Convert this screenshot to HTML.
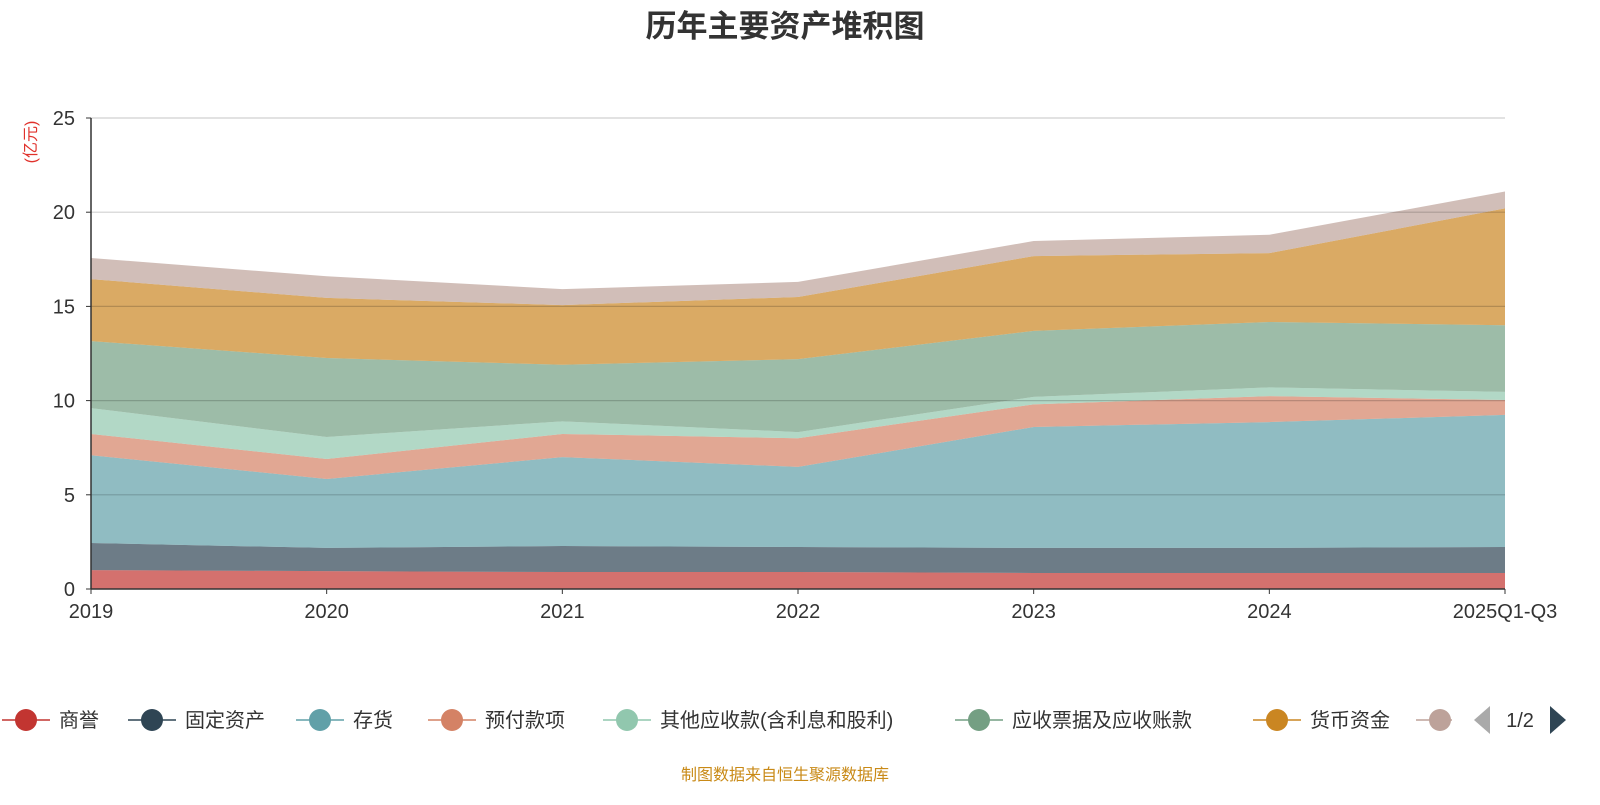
<!DOCTYPE html>
<html><head><meta charset="utf-8">
<style>
body{margin:0;background:#fff;width:1600px;height:800px;overflow:hidden;font-family:"Liberation Sans","Noto Sans CJK SC",sans-serif;}
svg text{font-family:"Liberation Sans","Noto Sans CJK SC",sans-serif;}
</style></head>
<body>
<svg id="chart" width="1600" height="800">
<text x="785" y="37" text-anchor="middle" font-size="31" font-weight="bold" fill="#333">历年主要资产堆积图</text>
<text transform="translate(36,142) rotate(-90)" text-anchor="middle" font-size="16" fill="#e0322c">(亿元)</text>
<g id="areas"></g><g id="grid"></g><g id="axes"></g><g id="legend"></g>
<text x="785" y="780" text-anchor="middle" font-size="16" fill="#c98a17">制图数据来自恒生聚源数据库</text>
</svg>
<script>
const categories=["2019","2020","2021","2022","2023","2024","2025Q1-Q3"];
const seriesNames=["商誉","固定资产","存货","预付款项","其他应收款(含利息和股利)","应收票据及应收账款","货币资金","其他流动资产"];
const s0=[1.0,0.95,0.9,0.9,0.85,0.85,0.85];
const s1=[1.44,1.23,1.38,1.33,1.33,1.33,1.38];
const s2=[4.66,3.66,4.72,4.25,6.42,6.68,7.01];
const s3=[1.13,1.06,1.23,1.52,1.2,1.38,0.79];
const s4=[1.37,1.17,0.67,0.33,0.4,0.46,0.43];
const s5=[3.56,4.19,3.0,3.87,3.5,3.47,3.54];
const s6=[3.29,3.19,3.17,3.3,3.97,3.66,6.2];
const s7=[1.12,1.15,0.85,0.8,0.8,0.97,0.9];
const yTicks=[0,5,10,15,20,25];
const seriesValues=[s0,s1,s2,s3,s4,s5,s6,s7];
const colors=["#c23531","#2f4554","#61a0a8","#d48265","#91c7ae","#749f83","#ca8622","#bda29a"];
const X0=91,X1=1505,Y0=589,Y1=118,YMAX=25;
const xs=i=>X0+(X1-X0)*i/(categories.length-1);
const ys=v=>Y0-(Y0-Y1)*v/YMAX;
const NS="http://www.w3.org/2000/svg";
function mk(t,a,p){const e=document.createElementNS(NS,t);for(const k in a)e.setAttribute(k,a[k]);p.appendChild(e);return e;}
const areas=document.getElementById('areas'),grid=document.getElementById('grid'),axes=document.getElementById('axes'),legend=document.getElementById('legend');
let base=categories.map(()=>0);
seriesValues.forEach((s,k)=>{
  const top=base.map((b,i)=>b+s[i]);
  let d="M"+top.map((v,i)=>xs(i)+","+ys(v)).join(" L");
  for(let i=categories.length-1;i>=0;i--)d+=" L"+xs(i)+","+ys(base[i]);
  const p=mk('path',{d:d+"Z",fill:colors[k],'fill-opacity':0.7},areas);
  
  
  base=top;
});
yTicks.forEach(t=>{
  if(t>0){const l=mk('line',{x1:X0,x2:X1,y1:ys(t),y2:ys(t),stroke:"rgba(0,0,0,0.18)","stroke-width":1.2},grid);
  
  }
  const tx=mk('text',{x:75,y:ys(t)+7,'text-anchor':'end','font-size':20,fill:'#333'},axes);tx.textContent=t;
  
  
  mk('line',{x1:86,x2:X0,y1:ys(t),y2:ys(t),stroke:'#333'},axes);
});
mk('line',{x1:X0,x2:X0,y1:Y1,y2:Y0,stroke:'#333','stroke-width':1.5},axes);
mk('line',{x1:X0,x2:X1,y1:Y0,y2:Y0,stroke:'#333','stroke-width':1.5},axes);
categories.forEach((c,i)=>{
  mk('line',{x1:xs(i),x2:xs(i),y1:Y0,y2:Y0+5,stroke:'#333'},axes);
  const tx=mk('text',{x:xs(i),y:618,'text-anchor':'middle','font-size':20,fill:'#333'},axes);tx.textContent=c;
  
  
});
const lx=[26,152,320,452,627,979,1277,1440];
seriesNames.forEach((n,k)=>{
  const g=mk('g',{},legend);
  
  
  mk('line',{x1:lx[k]-24,x2:lx[k]+24,y1:720,y2:720,stroke:colors[k],'stroke-width':1.5},g);
  mk('circle',{cx:lx[k],cy:720,r:11,fill:colors[k]},g);
  if(k<7){const t=mk('text',{x:lx[k]+33,y:727,'font-size':20,fill:'#333'},g);t.textContent=n;}
});
mk('rect',{x:1452,y:700,width:20,height:40,fill:'#fff'},legend);
const pg=mk('g',{},legend);


mk('path',{d:"M1490,706 L1474,720 L1490,734Z",fill:'#aaa'},pg);
const pt=mk('text',{x:1520,y:727,'text-anchor':'middle','font-size':20,fill:'#333'},pg);pt.textContent="1/2";
mk('path',{d:"M1550,706 L1566,720 L1550,734Z",fill:'#2f4554'},pg);
</script>
</body></html>
